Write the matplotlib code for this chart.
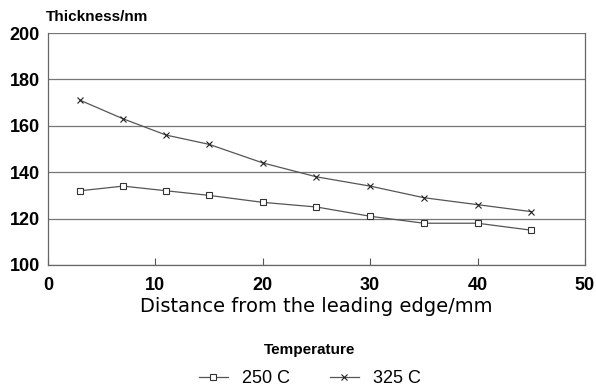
import matplotlib.pyplot as plt

# distance from the leading edge (mm)
distance = [3, 7, 11, 15, 20, 25, 30, 35, 40, 45]
# thickness (nm) at the two temperatures
thick_250 = [132, 134, 132, 130, 127, 125, 121, 118, 118, 115]
thick_325 = [171, 163, 156, 152, 144, 138, 134, 129, 126, 123]

xticks = [0, 10, 20, 30, 40, 50]
yticks = [100, 120, 140, 160, 180, 200]

plt.rcParams['font.family'] = ['Liberation Sans', 'DejaVu Sans']

fig = plt.figure(figsize=(5.96, 3.86), dpi=100)
ax = fig.add_axes([0.0805, 0.3135, 0.901, 0.601])

lc = '#555555'
ax.plot(distance, thick_250, color=lc, linewidth=0.9, marker='s', markersize=5,
        markerfacecolor='white', markeredgecolor='#333333', markeredgewidth=0.8,
        label='250 C')
ax.plot(distance, thick_325, color=lc, linewidth=0.9, marker='x', markersize=4.5,
        markeredgecolor='#222222', markeredgewidth=0.8, label='325 C')

ax.set_xlim(0, 50)
ax.set_ylim(100, 200)
ax.set_xticks(xticks)
ax.set_yticks(yticks)
ax.set_xticklabels([str(t) for t in xticks], fontsize=13, fontweight='bold')
ax.set_yticklabels([str(t) for t in yticks], fontsize=13, fontweight='bold')
ax.tick_params(axis='x', direction='in', length=5, width=0.8, color='#555555', pad=9)
ax.tick_params(axis='y', length=0, pad=6)

ax.yaxis.grid(True, color='#777777', linewidth=0.9)
ax.set_axisbelow(True)
for s in ['left', 'right', 'bottom']:
    ax.spines[s].set_color('#666666')
    ax.spines[s].set_linewidth(0.9)
ax.spines['top'].set_visible(False)

ax.set_xlabel('Distance from the leading edge/mm', fontsize=14, labelpad=2,
              family='DejaVu Sans')
fig.text(0.077, 0.955, 'Thickness/nm', fontsize=11, fontweight='bold', va='center')

leg = fig.legend(loc='lower center', bbox_to_anchor=(0.52, -0.022), ncol=2,
                 title='Temperature', frameon=False, fontsize=13, title_fontsize=11,
                 handlelength=1.6, columnspacing=2.2, labelspacing=0.75,
                 borderaxespad=0.0)
leg.get_title().set_fontweight('bold')

fig.savefig('out.png', dpi=100)
